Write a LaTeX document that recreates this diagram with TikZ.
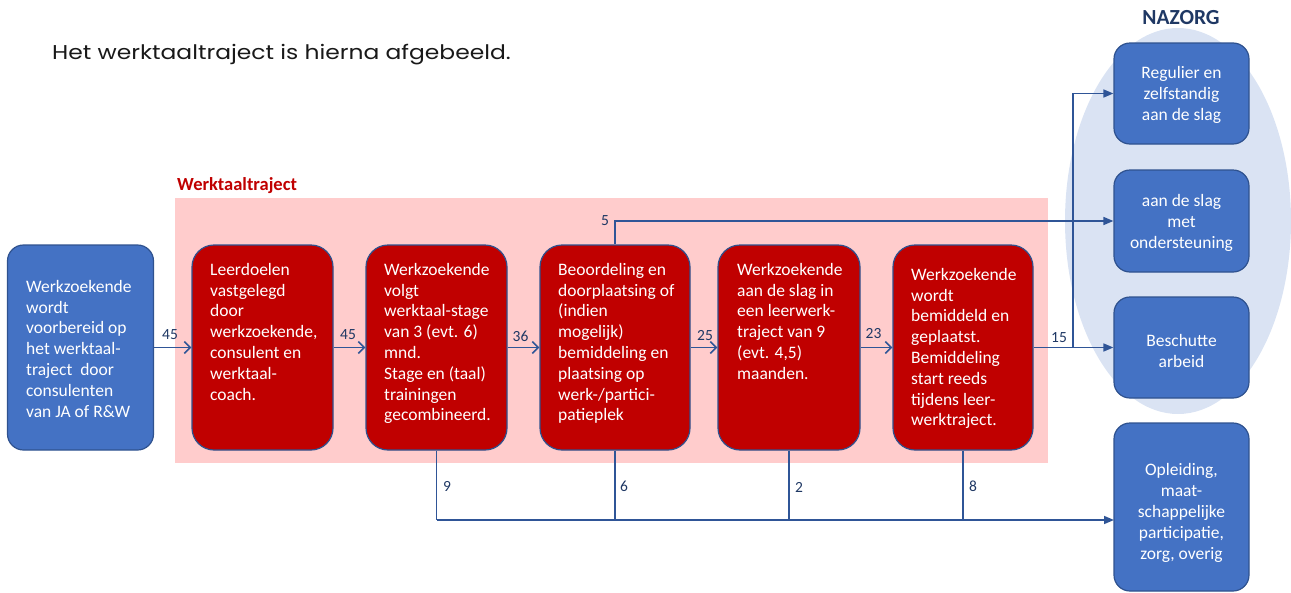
\documentclass[tikz,border=0pt]{standalone}
\usepackage{fontspec}
\setmainfont{Carlito}
\newfontfamily\titlefont[FakeStretch=1.17]{Poppins}
\usetikzlibrary{arrows.meta,shapes.geometric}
\definecolor{redbox}{HTML}{C00000}
\definecolor{pinkbg}{HTML}{FFCCCC}
\definecolor{bluebox}{HTML}{4472C4}
\definecolor{blueedge}{HTML}{2F528F}
\definecolor{ellbg}{HTML}{DAE3F3}
\definecolor{linecol}{HTML}{2F5597}
\definecolor{navy}{HTML}{1F3864}
\tikzset{
  stepbox/.style={draw=blueedge, line width=1.2pt, fill=redbox, rounded corners=22pt, inner sep=0pt},
  bluenode/.style={draw=blueedge, line width=1.2pt, fill=bluebox, rounded corners=16pt, inner sep=0pt},
  boxtext/.style={text=white, align=left, inner sep=0pt, anchor=north west, font=\fontsize{17.5}{20.8}\selectfont},
  ctext/.style={text=white, align=center, inner sep=0pt, font=\fontsize{17.5}{20.8}\selectfont},
  numlab/.style={text=navy, inner sep=0pt, font=\fontsize{15.5}{18}\selectfont},
  flow/.style={draw=linecol, line width=1.6pt, -{Straight Barb[length=6pt,width=12pt,line width=1.6pt]}},
  outflow/.style={draw=linecol, line width=1.6pt, -{Triangle[length=10pt,width=8pt]}},
  plain/.style={draw=linecol, line width=1.6pt},
}
\begin{document}
\begin{tikzpicture}[x=1pt,y=-1pt]
\useasboundingbox (0,0) rectangle (1291,592);
% title
\node[anchor=west, inner sep=0pt, font=\titlefont\fontsize{20}{22}\selectfont, text=black!90] (title) at (52,55) {Het werktaaltraject is hierna afgebeeld.};
% NAZORG ellipse
\node[ellipse, fill=ellbg, minimum width=226pt, minimum height=386pt, inner sep=0pt] (ell) at (1178,221) {};
\node[text=navy, font=\bfseries\fontsize{21.5}{24}\selectfont, inner sep=0pt] (nazorg) at (1181,18) {NAZORG};
% pink background
\node[fill=pinkbg, minimum width=873pt, minimum height=265pt, inner sep=0pt] (bg) at (611,330.5) {};
\node[anchor=west, text=redbox, font=\bfseries\fontsize{18.5}{21}\selectfont, inner sep=0pt] (wtlab) at (177,186) {Werktaaltraject};
% left box
\node[bluenode, minimum width=146pt, minimum height=205pt] (lb) at (80.5,347.5) {};
\node[boxtext] (lbt) at (26,280) {Werkzoekende\\wordt\\voorbereid op\\het werktaal-\\traject\ \ door\\consulenten\\van JA of R\&W};
% step boxes
\node[stepbox, minimum width=141pt, minimum height=205pt] (b1) at (262.5,347.5) {};
\node[stepbox, minimum width=141pt, minimum height=205pt] (b2) at (436.5,347.5) {};
\node[stepbox, minimum width=150pt, minimum height=205pt] (b3) at (615,347.5) {};
\node[stepbox, minimum width=142pt, minimum height=205pt] (b4) at (789,347.5) {};
\node[stepbox, minimum width=140pt, minimum height=205pt] (b5) at (963,347.5) {};
\node[boxtext] (b1t) at (210,263) {Leerdoelen\\vastgelegd\\door\\werkzoekende,\\consulent en\\werktaal-\\coach.};
\node[boxtext] (b2t) at (384,263) {Werkzoekende\\volgt\\werktaal-stage\\van 3 (evt. 6)\\mnd.\\Stage en (taal)\\trainingen\\gecombineerd.};
\node[boxtext] (b3t) at (558,263) {Beoordeling en\\doorplaatsing of\\(indien\\mogelijk)\\bemiddeling en\\plaatsing op\\werk-/partici-\\patieplek};
\node[boxtext] (b4t) at (737,263) {Werkzoekende\\aan de slag in\\een leerwerk-\\traject van 9\\(evt. 4,5)\\maanden.};
\node[boxtext] (b5t) at (911,268) {Werkzoekende\\wordt\\bemiddeld en\\geplaatst.\\Bemiddeling\\start reeds\\tijdens leer-\\werktraject.};
% right boxes
\node[bluenode, minimum width=135pt, minimum height=101pt] (r1) at (1181.5,93.5) {};
\node[bluenode, minimum width=135pt, minimum height=102pt] (r2) at (1181.5,221) {};
\node[bluenode, minimum width=135pt, minimum height=101pt] (r3) at (1181.5,347.5) {};
\node[bluenode, minimum width=135pt, minimum height=168pt] (r4) at (1181.5,507) {};
\node[ctext] (r1t) at (1181.5,95) {Regulier en\\zelfstandig\\aan de slag};
\node[ctext] (r2t) at (1181.5,223) {aan de slag\\met\\ondersteuning};
\node[ctext] (r3t) at (1181.5,351) {Beschutte\\arbeid};
\node[ctext] (r4t) at (1181.5,513) {Opleiding,\\maat-\\schappelijke\\participatie,\\zorg, overig};
% main flow
\draw[flow] (lb.east) -- (b1.west);
\draw[flow] (b1.east) -- (b2.west);
\draw[flow] (b2.east) -- (b3.west);
\draw[flow] (b3.east) -- (b4.west);
\draw[flow] (b4.east) -- (b5.west);
\draw[outflow] (b5.east) -- (r3.west);
\coordinate (j) at (1073,347.5);
\draw[outflow] (j) |- (r1.west);
\draw[outflow] (b3.north) |- (r2.west);
% bottom collector
\coordinate (r4in) at (1114,520);
\coordinate (bl) at (436.5,520);
\draw[plain] (b2.south) -- (bl);
\draw[outflow] (bl) -- (r4in);
\draw[plain] (b3.south) -- (b3.south |- r4in);
\draw[plain] (b4.south) -- (b4.south |- r4in);
\draw[plain] (b5.south) -- (b5.south |- r4in);
% labels
\node[numlab] (n1) at (170,335) {45};
\node[numlab] (n2) at (348,335) {45};
\node[numlab] (n3) at (520.5,336) {36};
\node[numlab] (n4) at (705,336) {25};
\node[numlab] (n5) at (873.5,334) {23};
\node[numlab] (n6) at (1059,338) {15};
\node[numlab] (n7) at (605,221) {5};
\node[numlab] (n8) at (447,486) {9};
\node[numlab] (n9) at (624,486) {6};
\node[numlab] (n10) at (799,487) {2};
\node[numlab] (n11) at (973,486) {8};
\end{tikzpicture}
\end{document}
